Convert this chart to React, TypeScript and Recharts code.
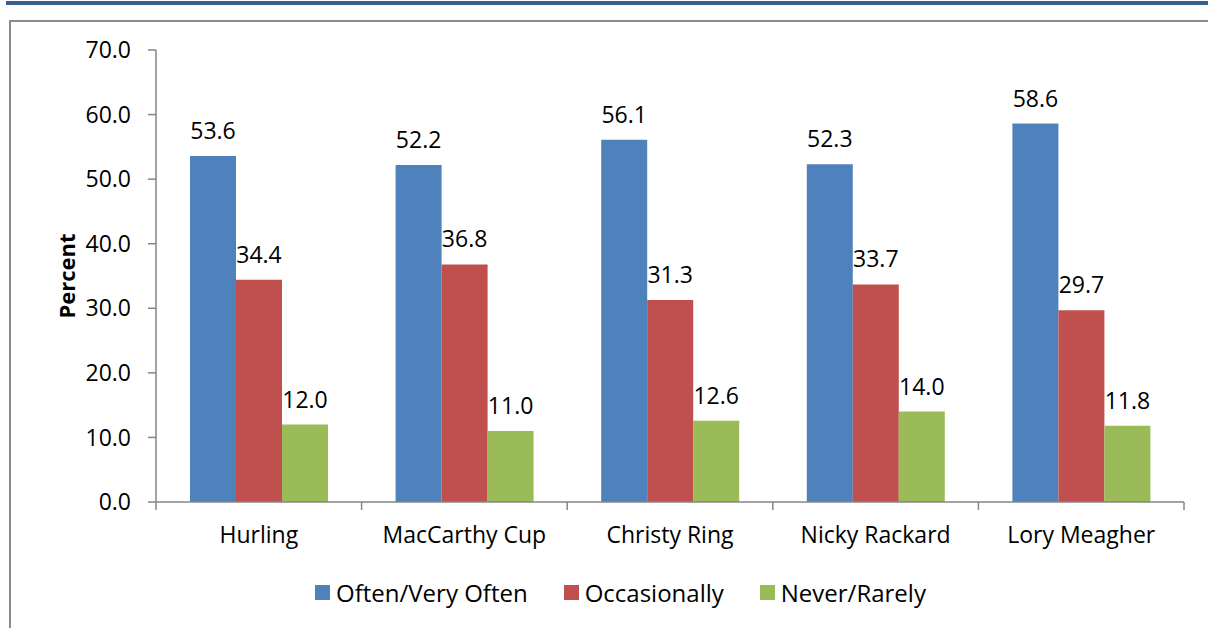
import React from 'react';
import { BarChart, Bar, XAxis, YAxis, LabelList, Label } from 'recharts';

const categories = ['Hurling', 'MacCarthy Cup', 'Christy Ring', 'Nicky Rackard', 'Lory Meagher'];
const oftenValues = [53.6, 52.2, 56.1, 52.3, 58.6];
const occasionallyValues = [34.4, 36.8, 31.3, 33.7, 29.7];
const neverValues = [12.0, 11.0, 12.6, 14.0, 11.8];
const yTicks = [0, 10, 20, 30, 40, 50, 60, 70];

const seriesList = [
  { key: 'often', name: 'Often/Very Often', color: '#4F81BD', values: oftenValues },
  { key: 'occasionally', name: 'Occasionally', color: '#C0504D', values: occasionallyValues },
  { key: 'never', name: 'Never/Rarely', color: '#9BBB59', values: neverValues },
];

const data = categories.map((c, i) => {
  const row: Record<string, string | number> = { category: c };
  seriesList.forEach((s) => {
    row[s.key] = s.values[i];
  });
  return row;
});

const FONT = '"Open Sans", sans-serif';
const AXIS_COLOR = '#868686';

const CategoryTick = (props: any) => {
  const { x, y, payload, index, visibleTicksCount } = props;
  const half = payload && typeof payload.offset === 'number' ? payload.offset : 0;
  const isLast = index === (visibleTicksCount ?? categories.length) - 1;
  return (
    <g>
      <line x1={x - half} x2={x - half} y1={y} y2={y + 8} stroke={AXIS_COLOR} strokeWidth={1.5} />
      {isLast && (
        <line x1={x + half} x2={x + half} y1={y} y2={y + 8} stroke={AXIS_COLOR} strokeWidth={1.5} />
      )}
      <text x={x} y={y + 25} dy="0.71em" textAnchor="middle" fill="#000" fontSize={23} fontFamily={FONT}>
        {payload.value}
      </text>
    </g>
  );
};

export default function App() {
  return (
    <div
      style={{
        position: 'absolute',
        left: 0,
        top: 0,
        width: 1208,
        height: 628,
        overflow: 'hidden',
        background: '#fff',
        fontFamily: FONT,
      }}
    >
      <div style={{ position: 'absolute', left: 6, top: 1, width: 1210, height: 4, background: '#34618F' }} />
      <div
        style={{
          position: 'absolute',
          left: 9,
          top: 20,
          width: 1400,
          height: 800,
          borderLeft: '2px solid #8C8C8C',
          borderTop: '2px solid #8C8C8C',
        }}
      />
      <div style={{ position: 'absolute', left: 0, top: 0 }}>
        <BarChart
          width={1208}
          height={628}
          data={data}
          margin={{ top: 50, right: 24, left: 0, bottom: 96 }}
          barGap={0}
        >
          <XAxis
            dataKey="category"
            height={30}
            tickSize={0}
            tickMargin={0}
            tickLine={false}
            axisLine={{ stroke: AXIS_COLOR, strokeWidth: 1.5 }}
            tick={<CategoryTick />}
            interval={0}
          />
          <YAxis
            width={156}
            domain={[0, 70]}
            ticks={yTicks}
            interval={0}
            tickFormatter={(v: number) => v.toFixed(1)}
            tickSize={8}
            tickMargin={17}
            tickLine={{ stroke: AXIS_COLOR, strokeWidth: 1.5 }}
            axisLine={{ stroke: AXIS_COLOR, strokeWidth: 1.5 }}
            tick={{ fill: '#000', fontSize: 23, fontFamily: FONT }}
          >
            <Label
              value="Percent"
              angle={-90}
              position="center"
              dx={-11}
              style={{ fontSize: 22, fontWeight: 700, fill: '#000', fontFamily: FONT, textAnchor: 'middle' }}
            />
          </YAxis>
          {seriesList.map((s) => (
            <Bar key={s.key} dataKey={s.key} name={s.name} fill={s.color} barSize={46} isAnimationActive={false}>
              <LabelList
                dataKey={s.key}
                position="top"
                offset={17}
                formatter={(v: any) => Number(v).toFixed(1)}
                style={{ fill: '#000', fontSize: 23, fontFamily: FONT }}
              />
            </Bar>
          ))}
        </BarChart>
      </div>
      <div
        style={{
          position: 'absolute',
          left: 315,
          top: 576,
          height: 32,
          display: 'flex',
          alignItems: 'center',
          gap: 36,
          fontSize: 24,
          color: '#000',
          fontFamily: FONT,
          whiteSpace: 'nowrap',
        }}
      >
        {seriesList.map((s) => (
          <div key={s.key} style={{ display: 'flex', alignItems: 'center' }}>
            <div style={{ width: 15, height: 15, background: s.color, marginRight: 6 }} />
            <span>{s.name}</span>
          </div>
        ))}
      </div>
    </div>
  );
}
